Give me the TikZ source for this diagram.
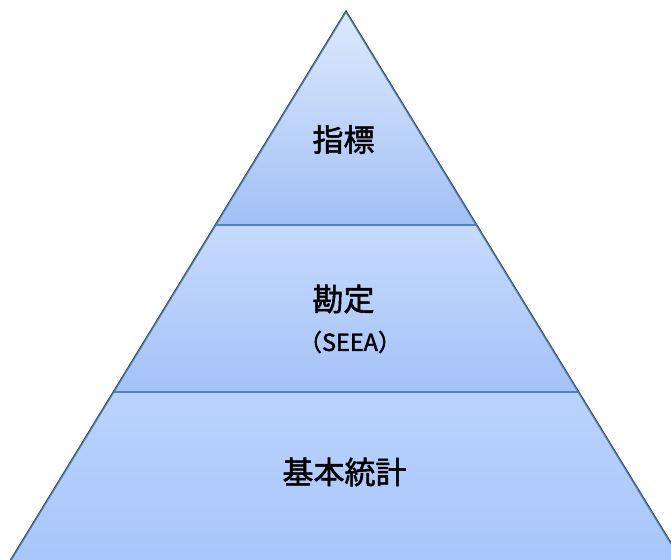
\documentclass[tikz,border=0pt]{standalone}
\usepackage{fontspec}
\setmainfont{Noto Sans CJK JP}
\newfontfamily\lblfont{Noto Sans CJK JP}[FakeBold=1.6]
\definecolor{edgeblue}{HTML}{4A7EBB}
\definecolor{lineblue}{HTML}{4F81C9}
\definecolor{topA}{HTML}{DDE9FD}
\definecolor{topB}{HTML}{A2C0F4}
\definecolor{midA}{HTML}{C7DAFD}
\definecolor{midB}{HTML}{A4C2F7}
\definecolor{botA}{HTML}{BAD2FD}
\definecolor{botB}{HTML}{A8C6FA}
\tikzset{
  lbl/.style={font=\lblfont\fontsize{31}{33}\selectfont, text=black, inner sep=0pt},
  sublbl/.style={font=\lblfont\fontsize{23.5}{25}\selectfont, text=black, inner sep=0pt},
  sep/.style={draw=lineblue, line width=1.6pt},
}
\begin{document}
\begin{tikzpicture}[x=1pt,y=-1pt]
\useasboundingbox (0,0) rectangle (671,559);
\begin{scope}
\clip (0,0) rectangle (671,559);
% shadow outline
\draw[black!75, line width=2.6pt] (346,12.2) -- (686.8,570) -- (5.2,570) -- cycle;
% bands
\shade[top color=topA, bottom color=topB] (346,12.2) -- (476,225) -- (216,225) -- cycle;
\shade[top color=midA, bottom color=midB] (216,225) -- (476,225) -- (578,392) -- (114,392) -- cycle;
\shade[top color=botA, bottom color=botB] (114,392) -- (578,392) -- (686.8,570) -- (5.2,570) -- cycle;
% separators
\draw[sep] (216,225) -- (476,225);
\draw[sep] (114,392) -- (578,392);
% outline
\draw[edgeblue, line width=1.1pt, line join=round] (346,12.2) -- (686.8,570) -- (5.2,570) -- cycle;
\end{scope}
\node[lbl] (idx) at (343.5,139.5) {指標};
\node[lbl] (acc) at (343.5,299) {勘定};
\node[sublbl] (seea) at (350,342) {（SEEA）};
\node[lbl] (base) at (344.5,472) {基本統計};
\end{tikzpicture}
\end{document}
